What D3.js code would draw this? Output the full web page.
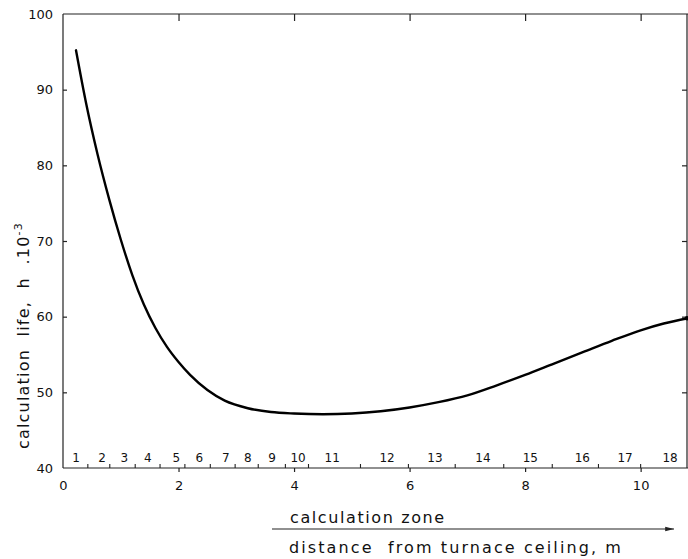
<!DOCTYPE html>
<html lang="en">
<head>
<meta charset="UTF-8">
<title>calculation life</title>
<script src="https://cdn.jsdelivr.net/npm/d3@7"></script>
<style>
  body { margin: 0; background: #fff; }
  svg { display: block; }
  text { font-family: "DejaVu Sans", sans-serif; fill: #111; }
  .frame line { stroke: #222; stroke-width: 1.2; }
</style>
</head>
<body>
<script>
// curve: distance from furnace ceiling (m) -> life (h * 10^-3)
const distance = [0.225, 0.4, 0.6, 0.8, 1.0, 1.2, 1.4, 1.6, 1.8, 2.0, 2.2, 2.5, 2.8, 3.2, 3.6, 4.0, 4.5, 5.0, 5.5, 6.0, 6.5, 7.0, 7.5, 8.0, 8.5, 9.0, 9.5, 10.0, 10.4, 10.82];
const life     = [95.2, 88.2, 81.4, 75.5, 70.2, 65.5, 61.6, 58.5, 56.0, 54.0, 52.3, 50.3, 48.9, 47.9, 47.4, 47.2, 47.1, 47.2, 47.5, 48.0, 48.7, 49.6, 50.9, 52.3, 53.8, 55.3, 56.8, 58.2, 59.1, 59.8];

// calculation zones
const zoneLabels = ["1","2","3","4","5","6","7","8","9","10","11","12","13","14","15","16","17","18"];
const zoneCenters = [0.225, 0.675, 1.06, 1.47, 1.96, 2.36, 2.82, 3.20, 3.62, 4.07, 4.66, 5.61, 6.44, 7.27, 8.09, 8.99, 9.73, 10.51];
const zoneBounds = [0.43, 0.81, 1.25, 1.68, 2.11, 2.55, 2.98, 3.38, 3.85, 4.25, 5.15, 5.98, 6.79, 7.63, 8.47, 9.27, 10.0];

const xTicks = [0, 2, 4, 6, 8, 10];
const yTicks = [40, 50, 60, 70, 80, 90, 100];

const W = 688, H = 559;
const mLeft = 63, mTop = 14, mRight = 688, mBottom = 468;

const svg = d3.select("body").append("svg")
  .attr("width", W).attr("height", H);

const x = d3.scaleLinear().domain([0, 10.82]).range([mLeft, mRight]);
const y = d3.scaleLinear().domain([40, 100]).range([mBottom, mTop]);

// frame
const frame = svg.append("g").attr("class", "frame");
frame.append("line").attr("x1", mLeft).attr("x2", mRight).attr("y1", mTop).attr("y2", mTop);
frame.append("line").attr("x1", mLeft).attr("x2", mRight).attr("y1", mBottom).attr("y2", mBottom);
frame.append("line").attr("x1", mLeft).attr("x2", mLeft).attr("y1", mTop).attr("y2", mBottom);
frame.append("line").attr("x1", mRight - 1).attr("x2", mRight - 1).attr("y1", mTop).attr("y2", mBottom);

// left axis
const yAxisL = d3.axisLeft(y).tickValues(yTicks).tickSize(-4).tickPadding(10);
const gl = svg.append("g").attr("transform", `translate(${mLeft},0)`).call(yAxisL);
gl.select(".domain").remove();
gl.selectAll(".tick line").attr("stroke", "#222").attr("stroke-width", 1.2);
gl.selectAll(".tick text").style("font-size", "13px").attr("fill", "#111");
gl.selectAll(".tick").filter(d => d === 40 || d === 100).select("line").remove();

// right axis ticks (inward)
const yAxisR = d3.axisRight(y).tickValues(yTicks.slice(1, -1)).tickSize(-5).tickFormat("");
const gr = svg.append("g").attr("transform", `translate(${mRight - 1},0)`).call(yAxisR);
gr.select(".domain").remove();
gr.selectAll(".tick line").attr("stroke", "#222").attr("stroke-width", 1.2);

// top axis ticks (inward)
const xAxisT = d3.axisTop(x).tickValues(xTicks.slice(1)).tickSize(-7).tickFormat("");
const gt = svg.append("g").attr("transform", `translate(0,${mTop})`).call(xAxisT);
gt.select(".domain").remove();
gt.selectAll(".tick line").attr("stroke", "#222").attr("stroke-width", 1.2);

// bottom axis
const xAxisB = d3.axisBottom(x).tickValues(xTicks).tickSize(4).tickPadding(9);
const gb = svg.append("g").attr("transform", `translate(0,${mBottom})`).call(xAxisB);
gb.select(".domain").remove();
gb.selectAll(".tick line").attr("stroke", "#222").attr("stroke-width", 1.2);
gb.selectAll(".tick text").style("font-size", "13px").attr("fill", "#111");
gb.selectAll(".tick").filter(d => d === 0).select("line").remove();

// zone boundary ticks
svg.append("g").selectAll("line")
  .data(zoneBounds)
  .join("line")
  .attr("x1", d => x(d)).attr("x2", d => x(d))
  .attr("y1", mBottom).attr("y2", mBottom - 4)
  .attr("stroke", "#222").attr("stroke-width", 1.1);

// zone labels
svg.append("g").selectAll("text")
  .data(zoneLabels)
  .join("text")
  .attr("x", (d, i) => x(zoneCenters[i]))
  .attr("y", mBottom - 6)
  .attr("text-anchor", "middle")
  .style("font-size", "12px")
  .text(d => d);

// curve
const pts = distance.map((d, i) => [d, life[i]]);
const line = d3.line()
  .x(d => x(d[0]))
  .y(d => y(d[1]))
  .curve(d3.curveMonotoneX);

svg.append("path")
  .datum(pts)
  .attr("d", line)
  .attr("fill", "none")
  .attr("stroke", "#000")
  .attr("stroke-width", 2.4)
  .attr("stroke-linecap", "round");

svg.append("circle")
  .attr("cx", x(distance[distance.length - 1]) - 1)
  .attr("cy", y(life[life.length - 1]))
  .attr("r", 2.2)
  .attr("fill", "#000");

// y title
const yt = svg.append("text")
  .attr("transform", `translate(29,${y(57.5)}) rotate(-90)`)
  .attr("text-anchor", "middle")
  .style("font-size", "16px")
  .style("letter-spacing", "1.2px")
  .attr("xml:space", "preserve")
  .style("white-space", "pre");
yt.append("tspan").text("calculation  life,  h  .10");
yt.append("tspan").attr("dy", -7).style("font-size", "11px").text("-3");

// x titles
svg.append("text")
  .attr("x", 290).attr("y", 523)
  .style("font-size", "16px")
  .style("letter-spacing", "1.6px")
  .text("calculation  zone");

svg.append("defs").append("marker")
  .attr("id", "arr")
  .attr("viewBox", "0 0 10 6")
  .attr("refX", 10).attr("refY", 3)
  .attr("markerWidth", 8).attr("markerHeight", 5)
  .attr("orient", "auto")
  .append("path").attr("d", "M0,0.5 L10,3 L0,5.5 Z").attr("fill", "#222");

svg.append("line")
  .attr("x1", 272).attr("x2", 674)
  .attr("y1", 529).attr("y2", 529)
  .attr("stroke", "#222").attr("stroke-width", 1.1)
  .attr("marker-end", "url(#arr)");

svg.append("text")
  .attr("x", 289).attr("y", 553)
  .style("font-size", "16px")
  .style("letter-spacing", "2.1px")
  .attr("xml:space", "preserve")
  .style("white-space", "pre")
  .text("distance  from turnace ceiling, m");
</script>
</body>
</html>
